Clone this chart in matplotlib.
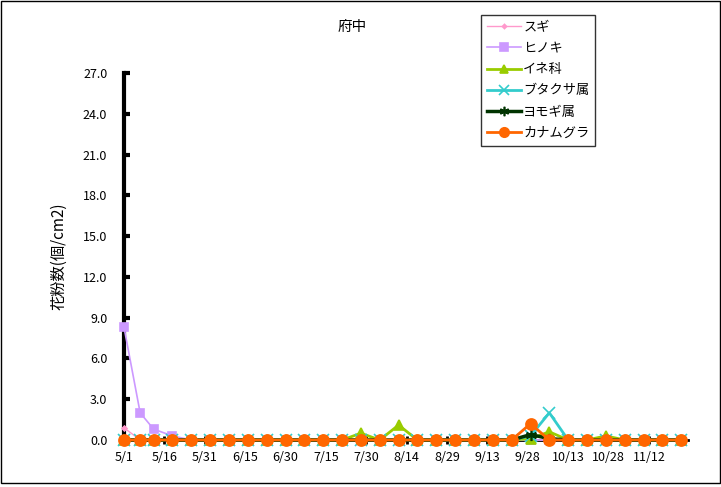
import numpy as np
import pandas as pd
import matplotlib
matplotlib.use("Agg")
import matplotlib.pyplot as plt
import matplotlib.dates as mdates
from matplotlib.patches import Rectangle

plt.rcParams['font.family'] = ['Noto Sans CJK JP', 'DejaVu Sans']

# sampling dates (weekly, first weeks irregular)
dates = ['5/1', '5/7', '5/12', '5/19', '5/26', '6/2', '6/9', '6/16', '6/23', '6/30',
         '7/7', '7/14', '7/21', '7/28', '8/4', '8/11', '8/18', '8/25', '9/1', '9/8',
         '9/15', '9/22', '9/29', '10/6', '10/13', '10/20', '10/27', '11/3', '11/10',
         '11/17', '11/24']
n = len(dates)

sugi = [0.9] + [0.0] * (n - 1)
hinoki = [8.3, 2.0, 0.8, 0.3] + [0.0] * (n - 4)
ine = [0.0] * n
ine[13] = 0.5   # 7/28
ine[15] = 1.1   # 8/11
ine[22] = 0.1   # 9/29
ine[23] = 0.6   # 10/6
ine[26] = 0.3   # 10/27
butakusa = [0.0] * n
butakusa[22] = 0.3
butakusa[23] = 2.0
yomogi = [0.0] * n
yomogi[22] = 0.4
yomogi[23] = 0.1
kanamugura = [0.0] * n
kanamugura[22] = 1.2

tick_labels = ['5/1', '5/16', '5/31', '6/15', '6/30', '7/15', '7/30', '8/14',
               '8/29', '9/13', '9/28', '10/13', '10/28', '11/12']

x = pd.to_datetime(['2010/' + d for d in dates])
xt = pd.to_datetime(['2010/' + d for d in tick_labels])

fig = plt.figure(figsize=(7.21, 4.87), dpi=100)
ax = fig.add_axes([124 / 721, 47 / 487, 564 / 721, 367 / 487])

series = [
    ('スギ', sugi, '#FF99CC', 'D', 2.5, 1.0),
    ('ヒノキ', hinoki, '#CC99FF', 's', 6, 1.2),
    ('イネ科', ine, '#99CC00', '^', 7, 2.0),
    ('ブタクサ属', butakusa, '#33CCCC', 'x', 8, 2.0),
    ('ヨモギ属', yomogi, '#003300', (6, 2, 0), 8, 2.5),
    ('カナムグラ', kanamugura, '#FF6600', 'o', 8, 2.0),
]
for name, vals, col, mk, ms, lw in series:
    ax.plot(x, vals, color=col, marker=mk, markersize=ms, linewidth=lw,
            markerfacecolor=col, markeredgecolor=col, markeredgewidth=1.2,
            label=name, clip_on=False, zorder=3)

ax.set_ylim(0, 27)
ax.set_yticks(np.arange(0, 27.1, 3))
ax.set_yticklabels([f'{v:.1f}' for v in np.arange(0, 27.1, 3)])
ax.set_xlim(mdates.date2num(x[0]), mdates.date2num(x[0]) + 209.5)
ax.set_xticks(mdates.date2num(xt))
ax.set_xticklabels(tick_labels)

for s in ['top', 'right']:
    ax.spines[s].set_visible(False)
ax.spines['left'].set_linewidth(3)
ax.spines['bottom'].set_linewidth(2)
ax.tick_params(axis='y', direction='in', length=4, width=3, labelsize=9, pad=12)
ax.tick_params(axis='x', direction='inout', length=6, width=2, labelsize=9, pad=5)

ax.set_ylabel('花粉数(個/cm2)', fontsize=11)
ax.yaxis.set_label_coords(-0.1, 0.5)

fig.text(352 / 721, 1 - 27 / 487, '府中', ha='center', va='center', fontsize=10.5)

leg = fig.legend(loc='upper left', bbox_to_anchor=(481 / 721, 1 - 15 / 487),
                 fontsize=9.5, frameon=True, fancybox=False, edgecolor='black',
                 handlelength=2.6, handletextpad=0.15, labelspacing=0.62,
                 borderpad=0.45, borderaxespad=0, markerscale=0.85)
leg.get_frame().set_linewidth(1)

fig.patches.append(Rectangle((0.5 / 721, 4 / 487), 719 / 721, 482 / 487,
                             transform=fig.transFigure, fill=False,
                             edgecolor='black', linewidth=1))

fig.savefig('out.png', dpi=100)
